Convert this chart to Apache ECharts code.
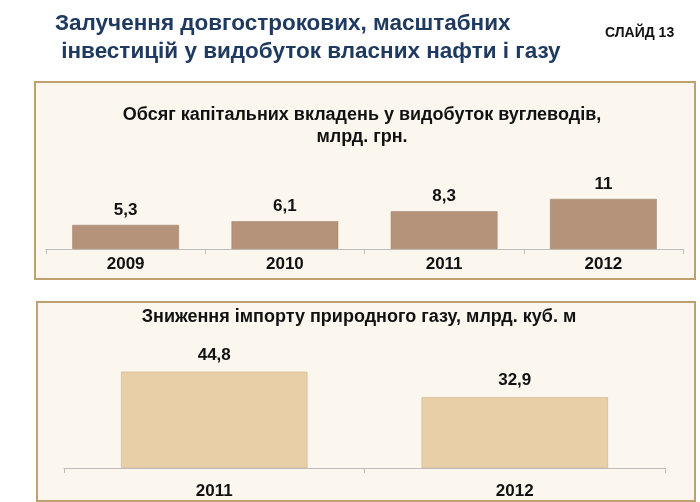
<!DOCTYPE html>
<html>
<head>
    <meta charset="UTF-8">
    <title>Слайд 13</title>
    <script src="https://cdn.jsdelivr.net/npm/echarts@6/dist/echarts.min.js"></script>
    <style type="text/css">
        html, body { margin: 0; padding: 0; background: #fff; }
        #main { width: 700px; height: 502px; }
    </style>
</head>
<body>
<div id="main"></div>
<script>
    // дані графіків
    var capexYears = ['2009', '2010', '2011', '2012'];
    var capexValues = [5.3, 6.1, 8.3, 11];
    var importYears = ['2011', '2012'];
    var importValues = [44.8, 32.9];

    var font = '"Liberation Sans", Arial, sans-serif';
    var panelBg = '#fbf6ee';
    var panelBorder = '#bfa170';

    function comma(p) {
        return String(p.value).replace('.', ',');
    }

    var myChart = echarts.init(document.getElementById('main'));

    var option = {
        backgroundColor: '#ffffff',
        animation: false,
        title: [
            {
                text: 'Залучення довгострокових, масштабних\n інвестицій у видобуток власних нафти і газу',
                left: 50, top: 5,
                textStyle: { color: '#1f3a60', fontFamily: font, fontWeight: 'bold', fontSize: 22.5, lineHeight: 28 }
            },
            {
                text: 'СЛАЙД 13',
                left: 600, top: 21,
                textStyle: { color: '#111', fontFamily: font, fontWeight: 'bold', fontSize: 14 }
            },
            {
                text: 'Обсяг капітальних вкладень у видобуток вуглеводів,\nмлрд. грн.',
                left: 357, top: 99, textAlign: 'center',
                textStyle: { color: '#111', fontFamily: font, fontWeight: 'bold', fontSize: 18, lineHeight: 22 }
            },
            {
                text: 'Зниження імпорту природного газу, млрд. куб. м',
                left: 354, top: 303, textAlign: 'center',
                textStyle: { color: '#111', fontFamily: font, fontWeight: 'bold', fontSize: 18 }
            }
        ],
        graphic: [
            {
                type: 'rect', z: -10,
                shape: { x: 35, y: 82, width: 660, height: 197 },
                style: { fill: panelBg, stroke: panelBorder, lineWidth: 2 }
            },
            {
                type: 'rect', z: -10,
                shape: { x: 37, y: 302, width: 658, height: 199 },
                style: { fill: panelBg, stroke: panelBorder, lineWidth: 2 }
            }
        ],
        grid: [
            { left: 46, width: 637, top: 158, height: 91 },
            { left: 64, width: 601, top: 339, height: 129 }
        ],
        xAxis: [
            {
                gridIndex: 0, type: 'category', data: capexYears,
                axisLine: { lineStyle: { color: '#bdbdbd' } },
                axisTick: { show: true, length: 5, lineStyle: { color: '#bdbdbd' } },
                axisLabel: { color: '#111', fontFamily: font, fontWeight: 'bold', fontSize: 17, margin: 7 }
            },
            {
                gridIndex: 1, type: 'category', data: importYears,
                axisLine: { lineStyle: { color: '#bdbdbd' } },
                axisTick: { show: true, length: 5, lineStyle: { color: '#bdbdbd' } },
                axisLabel: { color: '#111', fontFamily: font, fontWeight: 'bold', fontSize: 17, margin: 15 }
            }
        ],
        yAxis: [
            { gridIndex: 0, type: 'value', min: 0, max: 20, show: false },
            { gridIndex: 1, type: 'value', min: 0, max: 60, show: false }
        ],
        series: [
            {
                type: 'bar', xAxisIndex: 0, yAxisIndex: 0,
                data: capexValues, barWidth: '67%',
                itemStyle: { color: '#b5937a', borderColor: '#9c7c64', borderWidth: 0.5 },
                label: {
                    show: true, position: 'top', distance: 6, formatter: comma,
                    color: '#111', fontFamily: font, fontWeight: 'bold', fontSize: 17
                }
            },
            {
                type: 'bar', xAxisIndex: 1, yAxisIndex: 1,
                data: importValues, barWidth: '62%',
                itemStyle: { color: '#e8cfa7', borderColor: '#c9ab82', borderWidth: 0.5 },
                label: {
                    show: true, position: 'top', distance: 8, formatter: comma,
                    color: '#111', fontFamily: font, fontWeight: 'bold', fontSize: 17
                }
            }
        ]
    };

    myChart.setOption(option);
</script>
</body>
</html>
